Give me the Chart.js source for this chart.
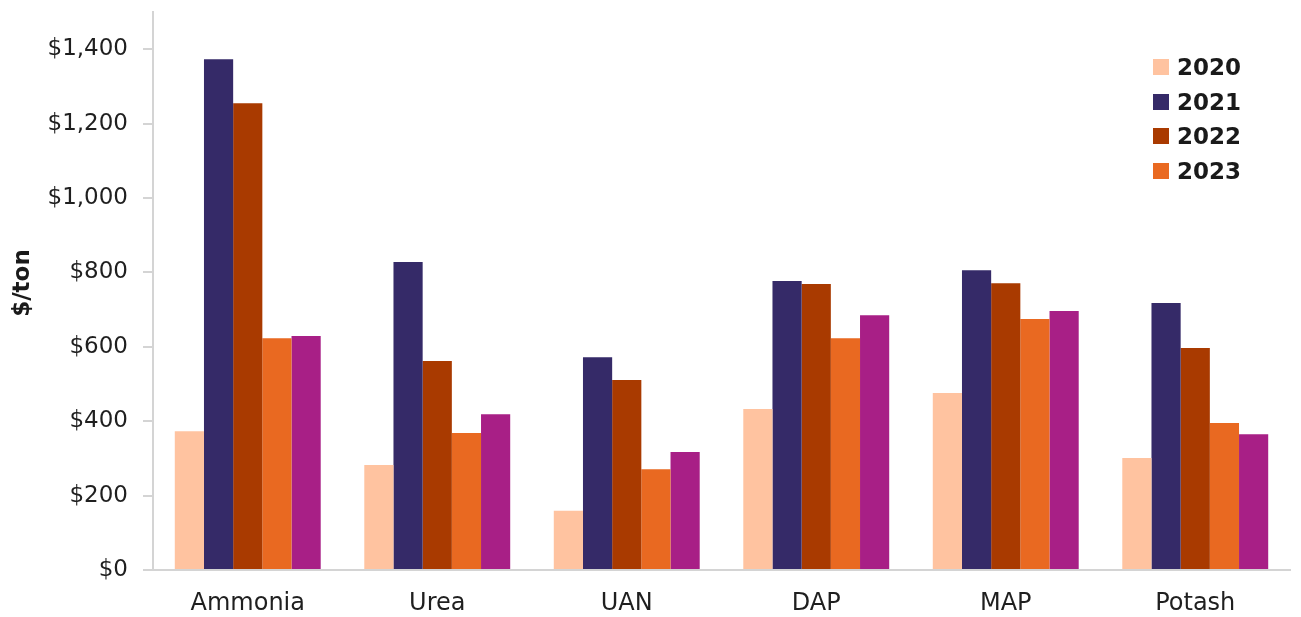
<!DOCTYPE html>
<html>
<head>
<meta charset="utf-8">
<script src="https://cdn.jsdelivr.net/npm/chart.js@4/dist/chart.umd.min.js"></script>
<style>
  html, body { margin: 0; padding: 0; background: #fff; }
  #wrap { position: relative; width: 1301px; height: 617px; }
  #legend { position: absolute; left: 1153px; top: 50px; font-family: "DejaVu Sans", sans-serif; font-weight: bold; font-size: 23px; color: #1a1a1a; }
  #legend .item { height: 34.5px; display: flex; align-items: center; }
  #legend .box { width: 16px; height: 16px; margin-right: 8px; }
</style>
</head>
<body>
<div id="wrap">
  <canvas id="chart1" width="1301" height="617"></canvas>
  <div id="legend"></div>
</div>
<script>
// product categories on the x axis
var categories = ["Ammonia", "Urea", "UAN", "DAP", "MAP", "Potash"];

// average price, $/ton
var price2020 = [373, 282, 159, 433, 476, 301];
var price2021 = [1373, 828, 572, 777, 806, 718];
var price2022 = [1255, 562, 511, 769, 771, 597];
var price2023 = [623, 368, 271, 623, 675, 395];
var price2024 = [629, 419, 317, 685, 696, 365];

var seriesNames = ["2020", "2021", "2022", "2023", "2024"];
var yTicks = [0, 200, 400, 600, 800, 1000, 1200, 1400];

var colours = ["#FFC3A0", "#352A68", "#A93A00", "#E96921", "#A81F86"];
// only the first four years are listed in the legend
var legendCount = 4;

var font = "'DejaVu Sans', sans-serif";
var allData = [price2020, price2021, price2022, price2023, price2024];

var datasets = [];
for (var i = 0; i < allData.length; i++) {
    datasets.push({
        label: seriesNames[i],
        data: allData[i],
        backgroundColor: colours[i],
        borderWidth: 0
    });
}

var ctx = document.getElementById("chart1");
var chart = new Chart(ctx, {
    type: "bar",
    data: {
        labels: categories,
        datasets: datasets
    },
    options: {
        responsive: false,
        animation: false,
        layout: { padding: { top: 12, right: 11, left: 0, bottom: 0 } },
        datasets: {
            bar: { categoryPercentage: 0.77, barPercentage: 1.0 }
        },
        plugins: {
            legend: { display: false },
            tooltip: { enabled: false }
        },
        scales: {
            x: {
                grid: { display: false, drawTicks: false },
                border: { color: "#d4d4d4", width: 2 },
                ticks: {
                    color: "#1f1f1f",
                    font: { family: font, size: 24 },
                    padding: 19,
                    maxRotation: 0
                },
                afterFit: function (scale) { scale.height = 47; }
            },
            y: {
                min: 0,
                max: 1500,
                afterBuildTicks: function (scale) {
                    scale.ticks = yTicks.map(function (v) { return { value: v }; });
                },
                grid: {
                    drawOnChartArea: false,
                    drawTicks: true,
                    tickLength: 10,
                    color: "#d4d4d4",
                    lineWidth: 2
                },
                border: { color: "#d4d4d4", width: 2 },
                ticks: {
                    color: "#1f1f1f",
                    font: { family: font, size: 23 },
                    padding: 15,
                    callback: function (v) { return "$" + Number(v).toLocaleString("en-US"); }
                },
                title: {
                    display: true,
                    text: "  $/ton",
                    color: "#1a1a1a",
                    font: { family: font, size: 23, weight: "bold" },
                    padding: { top: 9, bottom: 0 }
                },
                afterFit: function (scale) {
                    scale.width = 153;
                    scale.paddingTop = 0;
                    scale.paddingBottom = 0;
                }
            }
        }
    }
});

// legend built from the dataset list
var legendEl = document.getElementById("legend");
for (var j = 0; j < legendCount; j++) {
    var item = document.createElement("div");
    item.className = "item";
    var box = document.createElement("div");
    box.className = "box";
    box.style.background = colours[j];
    var txt = document.createElement("span");
    txt.textContent = seriesNames[j];
    item.appendChild(box);
    item.appendChild(txt);
    legendEl.appendChild(item);
}
</script>
</body>
</html>
